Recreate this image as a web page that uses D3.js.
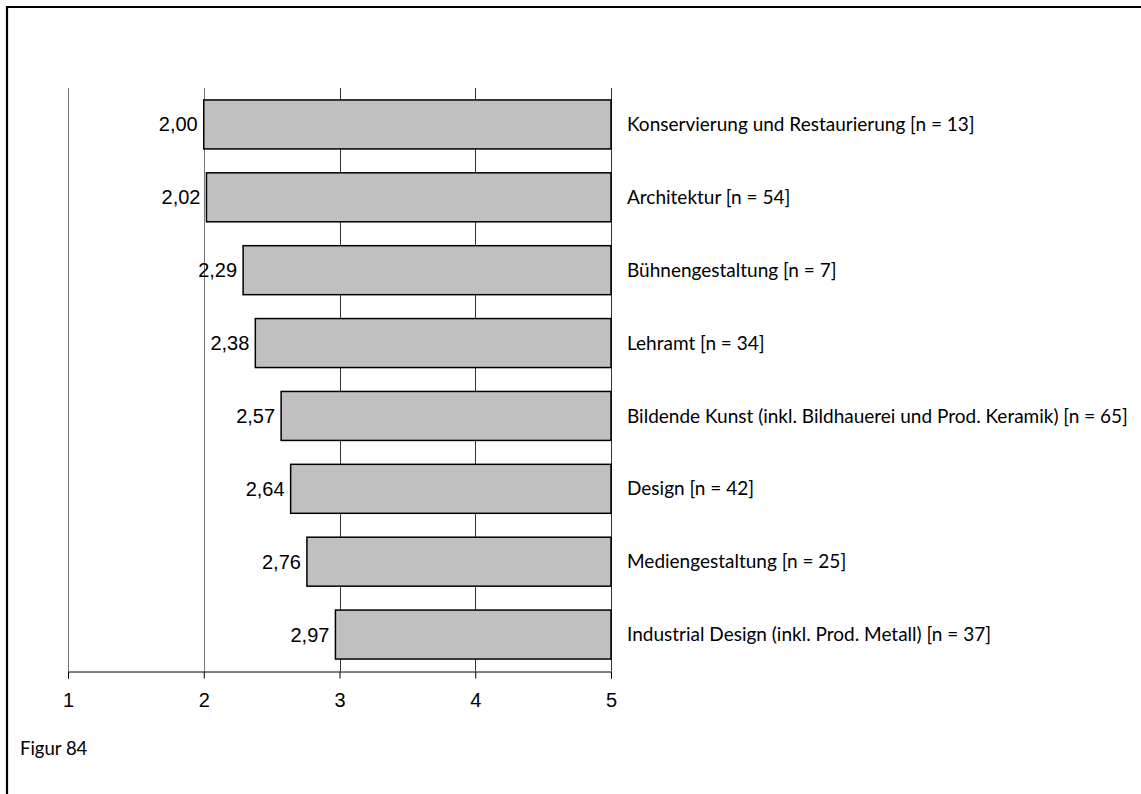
<!DOCTYPE html>
<html>
<head>
<meta charset="utf-8">
<script src="https://cdn.jsdelivr.net/npm/d3@7"></script>
<style>
  html, body { margin: 0; padding: 0; background: #fff; overflow: hidden; }
  svg { display: block; }
</style>
</head>
<body>
<svg id="chart" width="1141" height="794"></svg>
<script>
const categories = [
  "Konservierung und Restaurierung [n = 13]",
  "Architektur [n = 54]",
  "Bühnengestaltung [n = 7]",
  "Lehramt [n = 34]",
  "Bildende Kunst (inkl. Bildhauerei und Prod. Keramik) [n = 65]",
  "Design [n = 42]",
  "Mediengestaltung [n = 25]",
  "Industrial Design (inkl. Prod. Metall) [n = 37]"
];
const values = [2.00, 2.02, 2.29, 2.38, 2.57, 2.64, 2.76, 2.97];
const tickValues = [1, 2, 3, 4, 5];
const caption = "Figur 84";

(function () {
const svg = d3.select("#chart");
const W = 1141, H = 794;
const mLeft = 68, mRight = 611, mTop = 88, mBottom = 671;

// frame (only left and top edges visible)
svg.append("path").attr("d", `M7,${H} L7,7 L${W},7`)
  .attr("fill", "none").attr("stroke", "#000").attr("stroke-width", 2.2);

const x = d3.scaleLinear().domain([1, 5]).range([mLeft, mRight]);
const y = d3.scaleBand().domain(categories).range([mTop, mBottom]).paddingInner(0.328).paddingOuter(0.164);

// gridlines
svg.append("g").selectAll("line").data(tickValues).join("line")
  .attr("x1", d => Math.round(x(d)) + 0.5).attr("x2", d => Math.round(x(d)) + 0.5)
  .attr("y1", mTop).attr("y2", mBottom)
  .attr("stroke", d => d <= 2 ? "#777" : "#333").attr("stroke-width", 1);

// bars
svg.append("g").selectAll("rect").data(values).join("rect")
  .attr("x", d => x(d)).attr("width", d => x(5) - x(d))
  .attr("y", (d, i) => y(categories[i])).attr("height", y.bandwidth())
  .attr("fill", "#c0c0c0").attr("stroke", "#000").attr("stroke-width", 1.5);

// value labels
svg.append("g").selectAll("text").data(values).join("text")
  .attr("x", d => x(d) - 6)
  .attr("y", (d, i) => y(categories[i]) + y.bandwidth() / 2)
  .attr("dy", "0.35em").attr("text-anchor", "end")
  .attr("font-family", "Liberation Sans, Arial, sans-serif").attr("font-size", 20)
  .attr("fill", "#000")
  .text(d => d.toFixed(2).replace(".", ","));

// category labels
svg.append("g").selectAll("text").data(categories).join("text")
  .attr("x", x(5) + 16)
  .attr("y", d => y(d) + y.bandwidth() / 2)
  .attr("dy", "0.35em")
  .attr("font-family", "Lato, sans-serif").attr("font-size", 19)
  .attr("fill", "#000")
  .text(d => d);

// x axis
const axis = d3.axisBottom(x).tickValues(tickValues).tickSize(7).tickPadding(14)
  .tickFormat(d => String(d));
const gx = svg.append("g").attr("transform", `translate(0,${mBottom + 0.5})`).call(axis);
gx.select(".domain").attr("stroke", "#000");
gx.selectAll(".tick line").attr("stroke", "#000");
gx.selectAll(".tick text").attr("font-family", "Liberation Sans, Arial, sans-serif")
  .attr("font-size", 20).attr("fill", "#000");

// caption
svg.append("text").attr("x", 20).attr("y", 755)
  .attr("font-family", "Lato, sans-serif").attr("font-size", 18.5).attr("fill", "#000")
  .text(caption);
})();
</script>
</body>
</html>
